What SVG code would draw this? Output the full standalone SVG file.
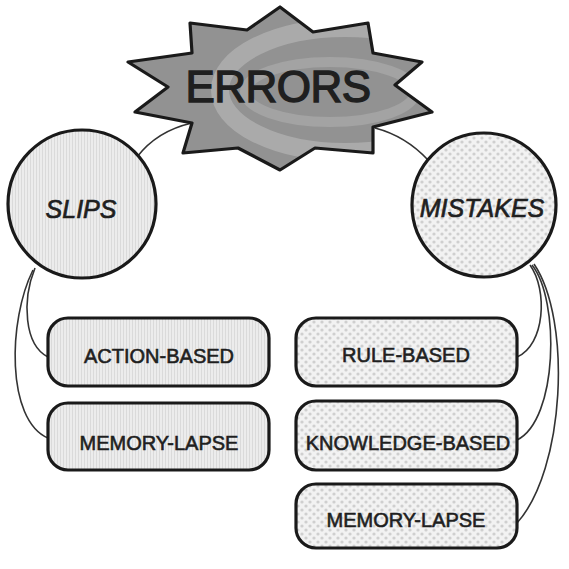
<svg xmlns="http://www.w3.org/2000/svg" width="569" height="569" viewBox="0 0 569 569">
<defs>
<style>
.node{stroke:#1a1a1a;stroke-width:3.2}
.conn{fill:none;stroke:#333;stroke-width:1.6}
.lbl{font-family:"Liberation Sans",Arial,sans-serif;fill:#1f1f1f;text-anchor:middle;stroke:#1f1f1f}
.box{font-size:20px;stroke-width:0.6}
.big{font-size:25px;font-style:italic;stroke-width:0.7}
.title{font-size:44px;stroke-width:1.4;letter-spacing:-0.5px}
</style>
<pattern id="stripes" width="3" height="6" patternUnits="userSpaceOnUse">
<rect width="3" height="6" fill="#ececec"/>
<rect width="1" height="6" fill="#dadada"/>
</pattern>
<pattern id="dots" width="8" height="8" patternUnits="userSpaceOnUse">
<rect width="8" height="8" fill="#f2f2f2"/>
<circle cx="2" cy="2" r="1.6" fill="#cfcfcf"/>
<circle cx="6" cy="6" r="1.6" fill="#cfcfcf"/>
</pattern>
<clipPath id="starclip">
<polygon points="280,7 313,32 368,23 373,53 422,62 395,85 432,112 373,127 373,153 315,148 280,170 238,148 183,153 192,123 135,112 168,87 128,62 192,53 190,23 247,30"/>
</clipPath>
</defs>
<rect width="569" height="569" fill="#ffffff"/>
<g id="connectors">
<path class="conn" d="M137,157 C150,140 170,128 192,123"/>
<path class="conn" d="M375,128 C398,134 414,145 428,160"/>
<path class="conn" d="M35,268 C22,300 24,345 48,357"/>
<path class="conn" d="M33,270 C8,320 6,420 48,438"/>
<path class="conn" d="M530,265 C548,290 545,345 517,357"/>
<path class="conn" d="M532,265 C560,300 558,420 517,440"/>
<path class="conn" d="M534,264 C572,320 565,470 517,523"/>
</g>
<g id="errors">
<polygon points="280,7 313,32 368,23 373,53 422,62 395,85 432,112 373,127 373,153 315,148 280,170 238,148 183,153 192,123 135,112 168,87 128,62 192,53 190,23 247,30" fill="#929292"/>
<g clip-path="url(#starclip)">
<ellipse cx="345" cy="90" rx="125" ry="62" fill="none" stroke="#aaaaaa" stroke-width="18"/>
<ellipse cx="330" cy="92" rx="85" ry="30" fill="none" stroke="#a3a3a3" stroke-width="10"/>
</g>
<polygon class="node" fill="none" stroke-linejoin="round" points="280,7 313,32 368,23 373,53 422,62 395,85 432,112 373,127 373,153 315,148 280,170 238,148 183,153 192,123 135,112 168,87 128,62 192,53 190,23 247,30"/>
<text class="lbl title" x="278" y="102">ERRORS</text>
</g>
<g id="slips">
<circle class="node" cx="82" cy="204" r="74" fill="url(#stripes)"/>
<text class="lbl big" x="81" y="218">SLIPS</text>
</g>
<g id="mistakes">
<circle class="node" cx="484" cy="205" r="72" fill="url(#dots)"/>
<text class="lbl big" x="482" y="217">MISTAKES</text>
</g>
<g id="action-based">
<rect class="node" x="48" y="318" width="221" height="68" rx="20" fill="url(#stripes)"/>
<text class="lbl box" x="159" y="363">ACTION-BASED</text>
</g>
<g id="slip-memory-lapse">
<rect class="node" x="48" y="403" width="221" height="67" rx="20" fill="url(#stripes)"/>
<text class="lbl box" x="159" y="450">MEMORY-LAPSE</text>
</g>
<g id="rule-based">
<rect class="node" x="296" y="318" width="221" height="68" rx="20" fill="url(#dots)"/>
<text class="lbl box" x="406" y="362">RULE-BASED</text>
</g>
<g id="knowledge-based">
<rect class="node" x="296" y="401" width="221" height="69" rx="20" fill="url(#dots)"/>
<text class="lbl box" x="408" y="450">KNOWLEDGE-BASED</text>
</g>
<g id="mistake-memory-lapse">
<rect class="node" x="296" y="484" width="221" height="64" rx="20" fill="url(#dots)"/>
<text class="lbl box" x="406" y="527">MEMORY-LAPSE</text>
</g>
</svg>
